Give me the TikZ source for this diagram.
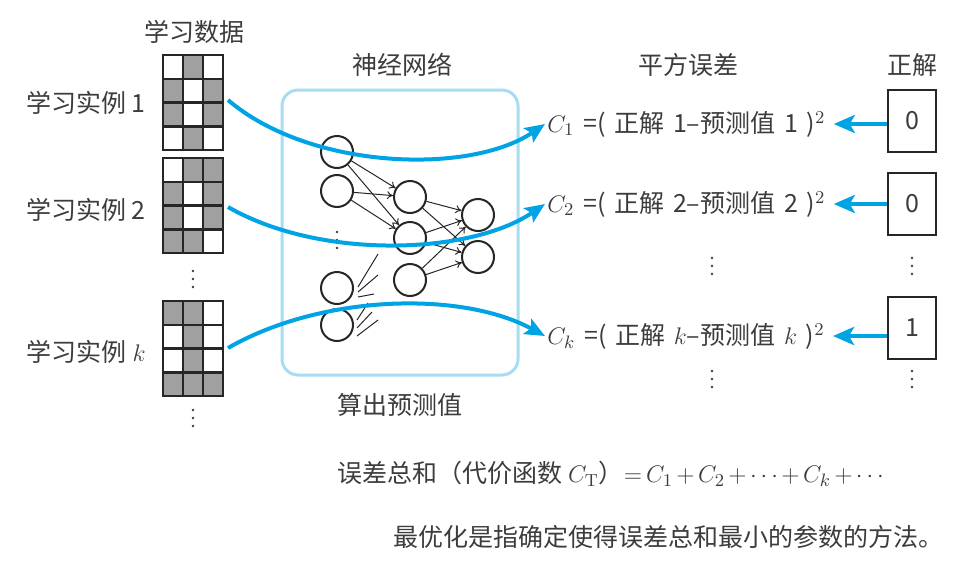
\documentclass[tikz,border=0pt]{standalone}
\usepackage{fontspec}
\newfontfamily\cjk{Noto Sans CJK SC}
\usetikzlibrary{arrows.meta,calc}
\definecolor{flowblue}{RGB}{0,163,228}
\definecolor{frameblue}{RGB}{166,221,243}
\definecolor{cellgray}{RGB}{160,160,160}
\definecolor{inkgray}{RGB}{60,60,60}
\newcommand{\gap}{\hspace{0.35em}}

\begin{document}
\begin{tikzpicture}[x=0.5pt, y=-0.5pt,
  lbl/.style={font=\cjk\fontsize{12.5}{15}\selectfont, text=inkgray, inner sep=1pt},
  neuron/.style={circle, draw=black!85, line width=1pt, minimum size=16pt, inner sep=0pt},
  ansbox/.style={draw=black!85, line width=0.7pt, minimum width=24pt, minimum height=31pt,
    font=\cjk\fontsize{12.5}{15}\selectfont, text=inkgray},
  flow/.style={draw=flowblue, line width=2pt, -{Stealth[length=10pt,width=8.5pt,inset=2pt]}},
  flowshort/.style={draw=flowblue, line width=2pt, -{Stealth[length=10.5pt,width=9pt,inset=2.5pt]}, shorten >=3pt},
  link/.style={draw=black!85, line width=0.5pt, -{To[length=3pt,width=4pt]}},
  stub/.style={draw=black!85, line width=0.5pt},
  dotcol/.pic={\foreach \k in {-1,0,1} \fill[inkgray] (0,\k*8) circle (0.65pt);}
]
\useasboundingbox (0,0) rectangle (962,562);

% headings
\node[lbl] (hdata) at (194,32) {学习数据};
\node[lbl] (hnet) at (402,65) {神经网络};
\node[lbl] (hsq) at (688,65) {平方误差};
\node[lbl] (hans) at (912,65) {正解};

% learning examples
\node[lbl, anchor=east] (ex1) at (148,103) {学习实例 1};
\node[lbl, anchor=east] (ex2) at (148,210) {学习实例 2};
\node[lbl, anchor=east] (exk) at (148,352) {学习实例 $k$};

% example images
\begin{scope}[shift={(163,55)}, x=10pt, y=-11.9pt]
  \foreach \c/\r in {1/0, 0/1, 2/1, 0/2, 2/2, 1/3}
    \fill[cellgray] (\c,\r) rectangle ++(1,1);
  \foreach \c in {0,...,3} \draw[line width=1.2pt, black!85, line cap=rect] (\c,0) -- (\c,4);
  \foreach \r in {0,...,4} \draw[line width=1.2pt, black!85, line cap=rect] (0,\r) -- (3,\r);
\end{scope}
\begin{scope}[shift={(163,158)}, x=10pt, y=-11.9pt]
  \foreach \c/\r in {1/0, 2/0, 0/1, 2/1, 0/2, 2/2, 0/3, 1/3}
    \fill[cellgray] (\c,\r) rectangle ++(1,1);
  \foreach \c in {0,...,3} \draw[line width=1.2pt, black!85, line cap=rect] (\c,0) -- (\c,4);
  \foreach \r in {0,...,4} \draw[line width=1.2pt, black!85, line cap=rect] (0,\r) -- (3,\r);
\end{scope}
\begin{scope}[shift={(163,301)}, x=10pt, y=-11.9pt]
  \foreach \c/\r in {0/0, 1/0, 1/1, 1/2, 0/3, 1/3, 2/3}
    \fill[cellgray] (\c,\r) rectangle ++(1,1);
  \foreach \c in {0,...,3} \draw[line width=1.2pt, black!85, line cap=rect] (\c,0) -- (\c,4);
  \foreach \r in {0,...,4} \draw[line width=1.2pt, black!85, line cap=rect] (0,\r) -- (3,\r);
\end{scope}
\pic at (193,279) {dotcol};
\pic at (193,418) {dotcol};

% neural network
\draw[frameblue, line width=1.5pt, rounded corners=8pt] (282,90) rectangle (518,375);
\node[neuron] (i1) at (337,152) {};
\node[neuron] (i2) at (337,191) {};
\pic at (337,240) {dotcol};
\node[neuron] (i3) at (337,288) {};
\node[neuron] (i4) at (337,325) {};
\node[neuron] (h1) at (410,197) {};
\node[neuron] (h2) at (410,238) {};
\node[neuron] (h3) at (410,280) {};
\node[neuron] (o1) at (478,215) {};
\node[neuron] (o2) at (478,257) {};
\foreach \s in {i1,i2}
  \foreach \t in {h1,h2}
    \draw[link] (\s) -- (\t);
\foreach \s in {h1,h2,h3}
  \foreach \t in {o1,o2}
    \draw[link] (\s) -- (\t);
\foreach \dx/\dy/\ex/\ey in {21/-1/20/-33, 21/4/20/-17, 21/9/16/-3}
  \draw[stub] ([shift={(\dx,\dy)}]i3.center) -- ++(\ex,\ey);
\foreach \dx/\dy/\ex/\ey in {20/-5/11/-17, 20/3/15/-16, 20/11/21/-16}
  \draw[stub] ([shift={(\dx,\dy)}]i4.center) -- ++(\ex,\ey);
\node[lbl] (calc) at (400,405) {算出预测值};

% squared errors
\node[lbl, anchor=west] (c1) at (545,124) {$C_1$\gap{}=(\gap{}正解\gap{}1–预测值\gap{}1\gap{})$^2$};
\node[lbl, anchor=west] (c2) at (545,204) {$C_2$\gap{}=(\gap{}正解\gap{}2–预测值\gap{}2\gap{})$^2$};
\node[lbl, anchor=west] (ck) at (545,336) {$C_k$\gap{}=(\gap{}正解\gap{}$k$–预测值\gap{}$k$\gap{})$^2$};
\pic at (712,266) {dotcol};
\pic at (712,379) {dotcol};

% correct answers
\node[ansbox] (a1) at (912,121) {0};
\node[ansbox] (a2) at (912,204) {0};
\node[ansbox] (ak) at (912,328) {1};
\pic at (912,266) {dotcol};
\pic at (912,379) {dotcol};
\draw[flowshort] (a1.west |- c1.east) -- (c1.east);
\draw[flowshort] (a2.west |- c2.east) -- (c2.east);
\draw[flowshort] (ak.west |- ck.east) -- (ck.east);

% flows through the network
\coordinate (s1) at (228,100);
\coordinate (s2) at (228,207);
\coordinate (sk) at (228,348);
\draw[flow] (s1) .. controls (310,170) and (470,175) .. (c1.west);
\draw[flow] (s2) .. controls (320,260) and (470,255) .. (c2.west);
\draw[flow] (sk) .. controls (320,295) and (460,290) .. (ck.west);

% totals
\node[lbl, anchor=west] (total) at (335,474) {误差总和（代价函数 $C_{\mathrm{T}}$）$\medmuskip=2.5mu\thickmuskip=3mu = C_1 + C_2 + \cdots + C_k + \cdots$};
\node[lbl, anchor=east] (concl) at (946,537) {最优化是指确定使得误差总和最小的参数的方法。};
\end{tikzpicture}
\end{document}
